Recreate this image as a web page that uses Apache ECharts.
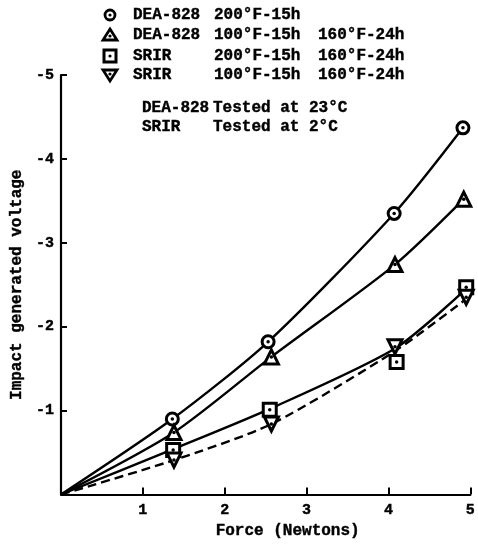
<!DOCTYPE html>
<html>
<head>
<meta charset="utf-8">
<script src="https://cdn.jsdelivr.net/npm/echarts@6/dist/echarts.min.js"></script>
<style>
  html, body { margin: 0; padding: 0; background: #fff; }
  #chart { width: 478px; height: 544px; }
</style>
</head>
<body>
<div id="chart"></div>
<script>
// Force (N) and impact generated voltage (V) measured for each specimen group
const xTicks = [1, 2, 3, 4, 5];
const yTicks = [-1, -2, -3, -4, -5];

const deaHotForce = [1.36, 2.53, 4.07, 4.91];
const deaHotVolt  = [-0.90, -1.82, -3.35, -4.37];

const deaMildForce = [1.38, 2.57, 4.08, 4.92];
const deaMildVolt  = [-0.74, -1.64, -2.74, -3.52];

const srirHotForce = [1.37, 2.55, 4.10, 4.95];
const srirHotVolt  = [-0.53, -1.01, -1.58, -2.47];

const srirMildForce = [1.38, 2.57, 4.08, 4.95];
const srirMildVolt  = [-0.41, -0.84, -1.76, -2.35];

// Hand-faired curves through the origin
const deaHotCurveF  = [0, 1.36, 2.53, 4.07, 4.91];
const deaHotCurveV  = [0, -0.90, -1.82, -3.35, -4.37];
const deaMildCurveF = [0, 1.38, 2.57, 4.08, 4.92];
const deaMildCurveV = [0, -0.74, -1.64, -2.74, -3.52];
const srirHotCurveF = [0, 1.37, 2.55, 4.08, 4.95];
const srirHotCurveV = [0, -0.54, -1.02, -1.74, -2.45];
const srirMildCurveF = [0, 1.38, 2.57, 4.08, 4.95];
const srirMildCurveV = [0, -0.41, -0.84, -1.71, -2.33];

const legendRows = [
  ['DEA-828', '200°F-15h', ''],
  ['DEA-828', '100°F-15h', '160°F-24h'],
  ['SRIR', '200°F-15h', '160°F-24h'],
  ['SRIR', '100°F-15h', '160°F-24h']
];
const noteRows = [
  ['DEA-828', 'Tested at 23°C'],
  ['SRIR', 'Tested at 2°C']
];

const FONT = '"Liberation Mono", "DejaVu Sans Mono", monospace';
const INK = '#000';

function pairs(xs, ys) { return xs.map((x, i) => [x, ys[i]]); }

function curve(xs, ys, dashed) {
  return {
    type: 'line', data: pairs(xs, ys), smooth: 0.25,
    showSymbol: false, symbol: 'none', silent: true, z: 2,
    lineStyle: { color: INK, width: 2.4, type: dashed ? [9, 5] : 'solid' }
  };
}
function markers(xs, ys, symbol, size, rotate) {
  return {
    type: 'scatter', data: pairs(xs, ys), symbol: symbol, symbolSize: size,
    symbolRotate: rotate || 0, z: 4, silent: true,
    itemStyle: { color: '#fff', borderColor: INK, borderWidth: 3, opacity: 1 }
  };
}
function dots(xs, ys) {
  return {
    type: 'scatter', data: pairs(xs, ys), symbol: 'circle', symbolSize: 3.5,
    z: 5, silent: true, itemStyle: { color: INK, opacity: 1 }
  };
}

// Legend block drawn as graphic elements
const rowY = [15, 35, 56, 75];
const legendGraphics = [];
const symX = 110;
legendGraphics.push(
  { type: 'circle', shape: { cx: symX, cy: rowY[0], r: 5 }, style: { fill: '#fff', stroke: INK, lineWidth: 2.8 } },
  { type: 'polygon', shape: { points: [[symX, rowY[1] - 6], [symX + 7, rowY[1] + 5], [symX - 7, rowY[1] + 5]] }, style: { fill: '#fff', stroke: INK, lineWidth: 2.8 } },
  { type: 'rect', shape: { x: symX - 6, y: rowY[2] - 6, width: 12, height: 12 }, style: { fill: '#fff', stroke: INK, lineWidth: 3 } },
  { type: 'polygon', shape: { points: [[symX - 7, rowY[3] - 5], [symX + 7, rowY[3] - 5], [symX, rowY[3] + 6]] }, style: { fill: '#fff', stroke: INK, lineWidth: 2.8 } }
);
[0, 1, 2, 3].forEach(i => {
  const dy = i === 1 ? 1 : (i === 3 ? -1 : 0);
  legendGraphics.push({ type: 'circle', shape: { cx: symX, cy: rowY[i] + dy, r: 1.6 }, style: { fill: INK } });
});
const textStyle = (txt) => ({
  text: txt, font: 'bold 16px ' + FONT, fill: INK, stroke: INK, lineWidth: 0.4,
  verticalAlign: 'middle', align: 'left'
});
const cols = [133, 214, 318];
legendRows.forEach((row, i) => {
  row.forEach((txt, j) => {
    if (!txt) return;
    legendGraphics.push({ type: 'text', x: cols[j], y: rowY[i], style: textStyle(txt) });
  });
});
const noteY = [108, 127];
const noteCols = [142, 213];
noteRows.forEach((row, i) => {
  row.forEach((txt, j) => {
    legendGraphics.push({ type: 'text', x: noteCols[j], y: noteY[i], style: textStyle(txt) });
  });
});

const chart = echarts.init(document.getElementById('chart'), null, { renderer: 'canvas' });
chart.setOption({
  animation: false,
  backgroundColor: '#fff',
  grid: { left: 61, right: 2, top: 75, bottom: 41, containLabel: false },
  xAxis: {
    type: 'value', min: 0, max: 5, interval: 1,
    name: 'Force (Newtons)', nameLocation: 'middle', nameGap: 20,
    nameTextStyle: {
      fontFamily: FONT, fontWeight: 'bold', fontSize: 16, color: INK,
      textBorderColor: INK, textBorderWidth: 0.4, padding: [0, 0, 0, 44]
    },
    axisLine: { lineStyle: { color: INK, width: 2.2 } },
    axisTick: { inside: true, length: 7, lineStyle: { color: INK, width: 2 } },
    axisLabel: {
      margin: 8, color: INK, fontFamily: FONT, fontWeight: 'bold', fontSize: 15,
      textBorderColor: INK, textBorderWidth: 0.4,
      formatter: v => (xTicks.indexOf(v) >= 0 ? String(v) : '')
    },
    splitLine: { show: false }
  },
  yAxis: {
    type: 'value', min: -5, max: 0, interval: 1, inverse: true,
    name: 'Impact generated voltage', nameLocation: 'middle', nameGap: 36, nameRotate: 90,
    nameTextStyle: {
      fontFamily: FONT, fontWeight: 'bold', fontSize: 16, color: INK,
      textBorderColor: INK, textBorderWidth: 0.4
    },
    axisLine: { lineStyle: { color: INK, width: 2.2 } },
    axisTick: { inside: true, length: 6, lineStyle: { color: INK, width: 2 } },
    axisLabel: {
      margin: 7, color: INK, fontFamily: FONT, fontWeight: 'bold', fontSize: 15,
      textBorderColor: INK, textBorderWidth: 0.4,
      formatter: v => (yTicks.indexOf(v) >= 0 ? String(v) : '')
    },
    splitLine: { show: false }
  },
  series: [
    curve(deaHotCurveF, deaHotCurveV, false),
    curve(deaMildCurveF, deaMildCurveV, false),
    curve(srirHotCurveF, srirHotCurveV, false),
    curve(srirMildCurveF, srirMildCurveV, true),
    markers(deaHotForce, deaHotVolt, 'circle', 12),
    markers(deaMildForce, deaMildVolt, 'triangle', 14),
    markers(srirHotForce, srirHotVolt, 'rect', 13),
    markers(srirMildForce, srirMildVolt, 'triangle', 14, 180),
    dots(deaHotForce, deaHotVolt),
    dots(deaMildForce, deaMildVolt),
    dots(srirHotForce, srirHotVolt),
    dots(srirMildForce, srirMildVolt)
  ],
  graphic: legendGraphics
});
</script>
</body>
</html>
